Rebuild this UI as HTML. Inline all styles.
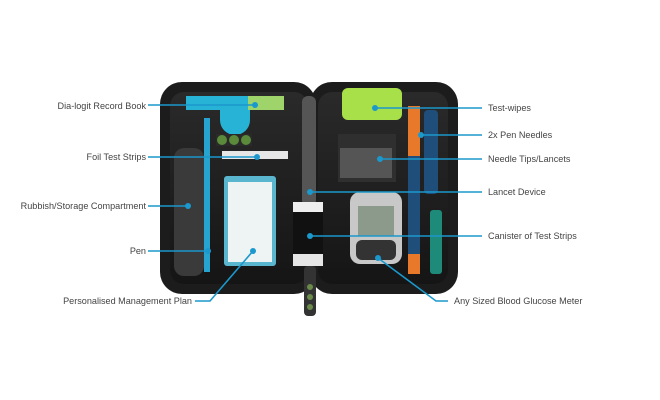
<!DOCTYPE html>
<html><head><style>
html,body{margin:0;padding:0;background:#fff;}
svg{display:block;font-family:"Liberation Sans",sans-serif;}
</style></head><body>
<svg width="660" height="400" viewBox="0 0 660 400">
<defs>
<linearGradient id="g1" x1="0" y1="0" x2="0" y2="1"><stop offset="0" stop-color="#2a2a2a"/><stop offset="1" stop-color="#151515"/></linearGradient>
</defs>
<rect x="160" y="82" width="156" height="212" rx="22" fill="#1c1c1c"/>
<rect x="310" y="82" width="148" height="212" rx="22" fill="#1c1c1c"/>
<rect x="170" y="92" width="138" height="192" rx="14" fill="url(#g1)"/>
<rect x="318" y="92" width="130" height="192" rx="14" fill="url(#g1)"/>
<rect x="174" y="148" width="30" height="128" rx="10" fill="#3a3a3a"/>
<rect x="186" y="96" width="98" height="14" fill="#27b3d6"/>
<rect x="248" y="96" width="36" height="14" fill="#9fd46a"/>
<path d="M220 110 h30 v10 a10 10 0 0 1 -30 0z" fill="#27b3d6"/>
<rect x="204" y="118" width="6" height="154" fill="#27a3d0"/>
<rect x="216" y="134" width="36" height="12" fill="#2a2a2a"/>
<circle cx="222" cy="140" r="5" fill="#5a8a3a"/><circle cx="234" cy="140" r="5" fill="#5a8a3a"/><circle cx="246" cy="140" r="5" fill="#5a8a3a"/>
<rect x="222" y="151" width="66" height="8" fill="#e6e6e6"/>
<rect x="224" y="176" width="52" height="90" rx="3" fill="#5ab6cf"/>
<rect x="228" y="182" width="44" height="80" fill="#eef3f4"/>
<rect x="302" y="96" width="14" height="110" rx="6" fill="#555"/>
<rect x="293" y="206" width="30" height="60" rx="3" fill="#111"/>
<rect x="293" y="202" width="30" height="10" fill="#eee"/>
<rect x="293" y="254" width="30" height="12" fill="#e5e5e5"/>
<rect x="304" y="266" width="12" height="50" rx="4" fill="#333"/>
<circle cx="310" cy="287" r="3" fill="#6a8a4a"/><circle cx="310" cy="297" r="3" fill="#6a8a4a"/><circle cx="310" cy="307" r="3" fill="#6a8a4a"/>
<rect x="342" y="88" width="60" height="32" rx="6" fill="#a8e04a"/>
<rect x="338" y="134" width="58" height="48" fill="#2f2f2f"/>
<rect x="340" y="148" width="52" height="30" fill="#555"/>
<rect x="350" y="192" width="52" height="72" rx="10" fill="#c8c8c8"/>
<rect x="358" y="206" width="36" height="30" fill="#8c9a8c"/>
<rect x="356" y="240" width="40" height="20" rx="6" fill="#333"/>
<rect x="408" y="106" width="12" height="168" rx="4" fill="#1f4e7a"/>
<rect x="408" y="106" width="12" height="50" fill="#e8782a"/>
<rect x="408" y="254" width="12" height="20" fill="#e8782a"/>
<rect x="424" y="110" width="14" height="84" rx="4" fill="#1f4e7a"/>
<rect x="430" y="210" width="12" height="64" rx="3" fill="#1d8a7a"/>
<g stroke="#1b98cc" stroke-width="1.6" fill="none">
<line x1="148" y1="105" x2="255" y2="105"/>
<line x1="148" y1="157" x2="257" y2="157"/>
<line x1="148" y1="206" x2="188" y2="206"/>
<line x1="148" y1="251" x2="208" y2="251"/>
<polyline points="195,301 210,301 253,251"/>
<line x1="375" y1="108" x2="482" y2="108"/>
<line x1="421" y1="135" x2="482" y2="135"/>
<line x1="380" y1="159" x2="482" y2="159"/>
<line x1="310" y1="192" x2="482" y2="192"/>
<line x1="310" y1="236" x2="482" y2="236"/>
<polyline points="378,258 436,301 448,301"/>
</g>
<g fill="#1b98cc">
<circle cx="255" cy="105" r="3"/><circle cx="257" cy="157" r="3"/><circle cx="188" cy="206" r="3"/><circle cx="208" cy="251" r="3"/><circle cx="253" cy="251" r="3"/>
<circle cx="375" cy="108" r="3"/><circle cx="421" cy="135" r="3"/><circle cx="380" cy="159" r="3"/><circle cx="310" cy="192" r="3"/><circle cx="310" cy="236" r="3"/><circle cx="378" cy="258" r="3"/>
</g>
<g fill="#444" font-size="9.1">
<text x="146" y="109" text-anchor="end">Dia-logit Record Book</text>
<text x="146" y="160" text-anchor="end">Foil Test Strips</text>
<text x="146" y="209" text-anchor="end">Rubbish/Storage Compartment</text>
<text x="146" y="254" text-anchor="end">Pen</text>
<text x="192" y="304" text-anchor="end">Personalised Management Plan</text>
<text x="488" y="111">Test-wipes</text>
<text x="488" y="138">2x Pen Needles</text>
<text x="488" y="162">Needle Tips/Lancets</text>
<text x="488" y="195">Lancet Device</text>
<text x="488" y="239">Canister of Test Strips</text>
<text x="454" y="304">Any Sized Blood Glucose Meter</text>
</g>
</svg>
</body></html>
